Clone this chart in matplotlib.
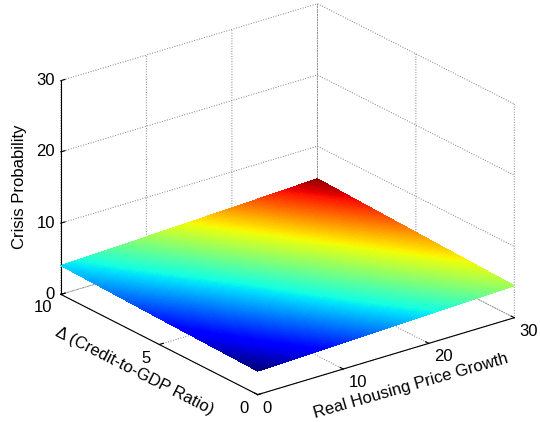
import numpy as np
import matplotlib
matplotlib.use("Agg")
import matplotlib.pyplot as plt
from matplotlib import cm, colors
from mpl_toolkits.mplot3d import proj3d

plt.rcParams["font.family"] = ["Liberation Sans", "DejaVu Sans"]
plt.rcParams["font.size"] = 12

# Fitted crisis probability (%) on a grid of the two drivers
housing_growth = [0, 10, 20, 30]          # real housing price growth
credit_change = [0, 5, 10]                # change in credit-to-GDP ratio
crisis_prob = [
    [3.30, 3.68, 4.08, 4.50],             # credit change = 0
    [3.65, 4.06, 4.50, 4.95],             # credit change = 5
    [4.05, 4.48, 4.95, 5.45],             # credit change = 10
]

x_ticks = [0, 10, 20, 30]
y_ticks = [0, 5, 10]
z_ticks = [0, 10, 20, 30]


def smooth_mesh(xv, yv, zv, n=80):
    """Bilinear shading mesh over the grid so colours blend like interpolated shading."""
    xv = np.asarray(xv, float)
    yv = np.asarray(yv, float)
    zv = np.asarray(zv, float)
    xs = np.linspace(xv[0], xv[-1], n)
    ys = np.linspace(yv[0], yv[-1], n)
    rows = np.array([np.interp(xs, xv, row) for row in zv])
    cols = np.array([np.interp(ys, yv, rows[:, j]) for j in range(n)]).T
    X, Y = np.meshgrid(xs, ys)
    return X, Y, cols


W, H = 540, 422
fig = plt.figure(figsize=(W / 100, H / 100), dpi=100)
ax = fig.add_axes([0.022, 0.0145, 1.0, 1.0], projection="3d", proj_type="ortho")
ax.view_init(elev=23, azim=-127.5)
ax.set_box_aspect((1, 1, 0.718), zoom=1.18)

X, Y, Z = smooth_mesh(housing_growth, credit_change, crisis_prob)
norm = colors.Normalize(vmin=Z.min(), vmax=Z.max())
fc = cm.jet(norm(Z))
surf = ax.plot_surface(X, Y, Z, facecolors=fc, rstride=1, cstride=1,
                       linewidth=0, antialiased=False, shade=False)
surf.set_clip_on(False)

ax.set_xlim(0, 30)
ax.set_ylim(0, 10)
ax.set_zlim(0, 30)
ax.set_xticks(x_ticks)
ax.set_yticks(y_ticks)
ax.set_zticks(z_ticks)
ax.set_xticklabels([])
ax.set_yticklabels([])
ax.set_zticklabels([])

for axis in (ax.xaxis, ax.yaxis, ax.zaxis):
    axis.set_pane_color((1, 1, 1, 0))
    axis.pane.set_edgecolor((1, 1, 1, 0))
    axis.line.set_color("black")
    axis.line.set_linewidth(0.8)
    axis._axinfo["grid"].update({"color": "0.5", "linestyle": ":", "linewidth": 0.7})
    axis._axinfo["tick"]["inward_factor"] = 0.0
    axis._axinfo["tick"]["outward_factor"] = 0.2

# Tick labels placed beside the projected tick positions (pixel offsets)
fig.canvas.draw()
M = ax.get_proj()


def to_fig(x, y, z, dx, dy):
    px, py, _ = proj3d.proj_transform(x, y, z, M)
    sx, sy = ax.transData.transform((px, py))
    return (sx + dx) / W, (sy - dy) / H


for v in x_ticks:
    fx, fy = to_fig(v, 0, 0, 5, 6)
    fig.text(fx, fy, f"{v}", ha="left", va="top")
for v in y_ticks:
    fx, fy = to_fig(0, v, 0, -9, 6)
    fig.text(fx, fy, f"{v}", ha="right", va="top")
for v in z_ticks:
    fx, fy = to_fig(0, 10, v, -6, 0)
    fig.text(fx, fy, f"{v}", ha="right", va="center")

# Axis titles
fig.text(20 / W, 1 - 187 / H, "Crisis Probability", rotation=90,
         ha="center", va="center")
fig.text(135 / W, 1 - 371 / H, "\u0394 (Credit-to-GDP Ratio)", rotation=-27,
         ha="center", va="center", rotation_mode="anchor")
fig.text(411 / W, 1 - 386 / H, "Real Housing Price Growth", rotation=16,
         ha="center", va="center", rotation_mode="anchor")

fig.savefig("out.png", dpi=100)
